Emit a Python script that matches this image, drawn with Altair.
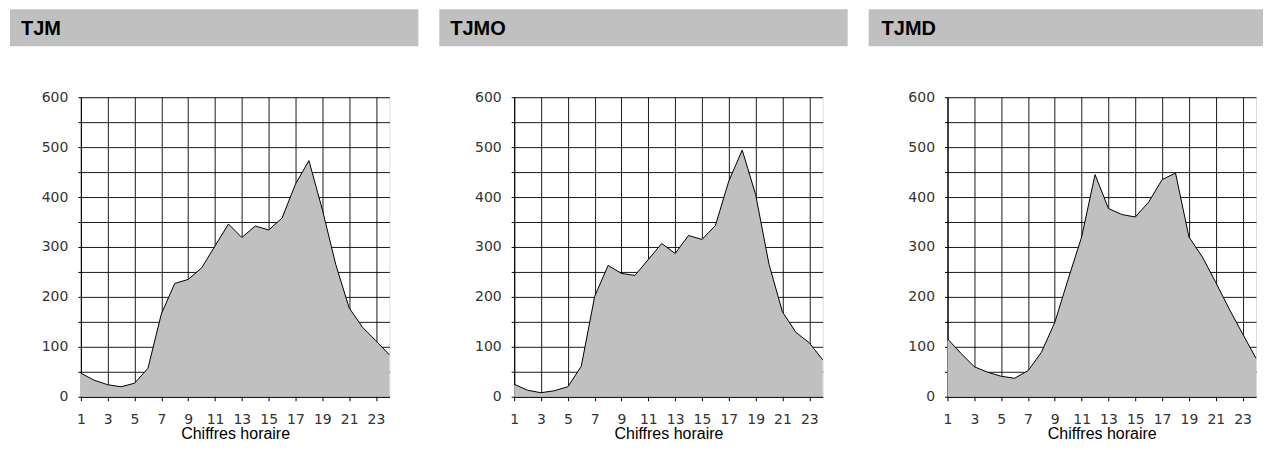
import altair as alt
import pandas as pd

hours = list(range(1, 25))

titles = ["TJM", "TJMO", "TJMD"]

tjm = [47, 33, 24, 20, 27, 57, 166, 227, 235, 258, 302, 346,
       319, 342, 334, 358, 426, 473, 375, 265, 178, 139, 112, 84]
tjmo = [25, 13, 8, 12, 20, 61, 201, 263, 247, 243, 275, 307,
        287, 323, 315, 343, 432, 494, 405, 265, 170, 129, 108, 74]
tjmd = [116, 87, 60, 49, 41, 37, 52, 89, 149, 236, 320, 445,
        377, 365, 360, 390, 435, 448, 320, 280, 229, 176, 126, 77]

series = [tjm, tjmo, tjmd]

x_ticks = [1, 3, 5, 7, 9, 11, 13, 15, 17, 19, 21, 23]
y_ticks = [0, 50, 100, 150, 200, 250, 300, 350, 400, 450, 500, 550, 600]

# header placement relative to each plot area (px)
header_left = [-71, -75, -79]
header_right = [338, 334, 316]
text_left = [-60, -64, -66]

W, H = 309, 300


def panel(i):
    df = pd.DataFrame({"hour": hours, "value": series[i]})
    head = pd.DataFrame({"t": [titles[i]]})

    x = alt.X(
        "hour:Q",
        scale=alt.Scale(domain=[1, 24], nice=False, zero=False),
        axis=alt.Axis(
            values=x_ticks,
            title="Chiffres horaire",
            grid=True,
            gridColor="#000",
            gridOpacity=0.9,
            domainColor="#000",
            tickColor="#000",
            tickSize=4,
            labelPadding=12,
            labelFont="DejaVu Sans",
            labelFontSize=14,
            labelColor="#333",
            labelFlush=False,
            titleFont="Liberation Sans",
            titleFontSize=16,
            titleFontWeight="normal",
            titleColor="#000",
            titlePadding=-1,
        ),
    )
    y = alt.Y(
        "value:Q",
        scale=alt.Scale(domain=[0, 600], nice=False),
        axis=alt.Axis(
            values=y_ticks,
            labelExpr="datum.value % 100 == 0 ? datum.label : ''",
            title=None,
            grid=True,
            gridColor="#000",
            gridOpacity=0.9,
            domainColor="#000",
            tickColor="#000",
            tickSize=3,
            labelPadding=10,
            labelFont="DejaVu Sans",
            labelFontSize=14,
            labelColor="#333",
            labelFlush=False,
        ),
    )

    area = alt.Chart(df).mark_area(
        color="#c0c0c0",
        opacity=1,
        line={"color": "#000", "strokeWidth": 1},
    ).encode(x=x, y=y)

    rect = alt.Chart(head).mark_rect(color="#c0c0c0").encode(
        x=alt.value(header_left[i]),
        x2=alt.value(header_right[i]),
        y=alt.value(-88),
        y2=alt.value(-51),
    )
    txt = alt.Chart(head).mark_text(
        align="left",
        baseline="middle",
        font="Liberation Sans",
        fontSize=20,
        fontWeight="bold",
        color="#000",
    ).encode(
        x=alt.value(text_left[i]),
        y=alt.value(-68),
        text="t:N",
    )

    return alt.layer(area, rect, txt).properties(width=W, height=H)


chart = alt.hconcat(
    panel(0), panel(1), panel(2), spacing=125, bounds="flush"
).properties(
    padding={"left": 1, "top": 0, "right": 0, "bottom": 0}
).configure_view(
    stroke="#000", strokeWidth=1
).configure(background="white")

chart.save("out.html", embed_options={"renderer": "svg", "actions": False})
